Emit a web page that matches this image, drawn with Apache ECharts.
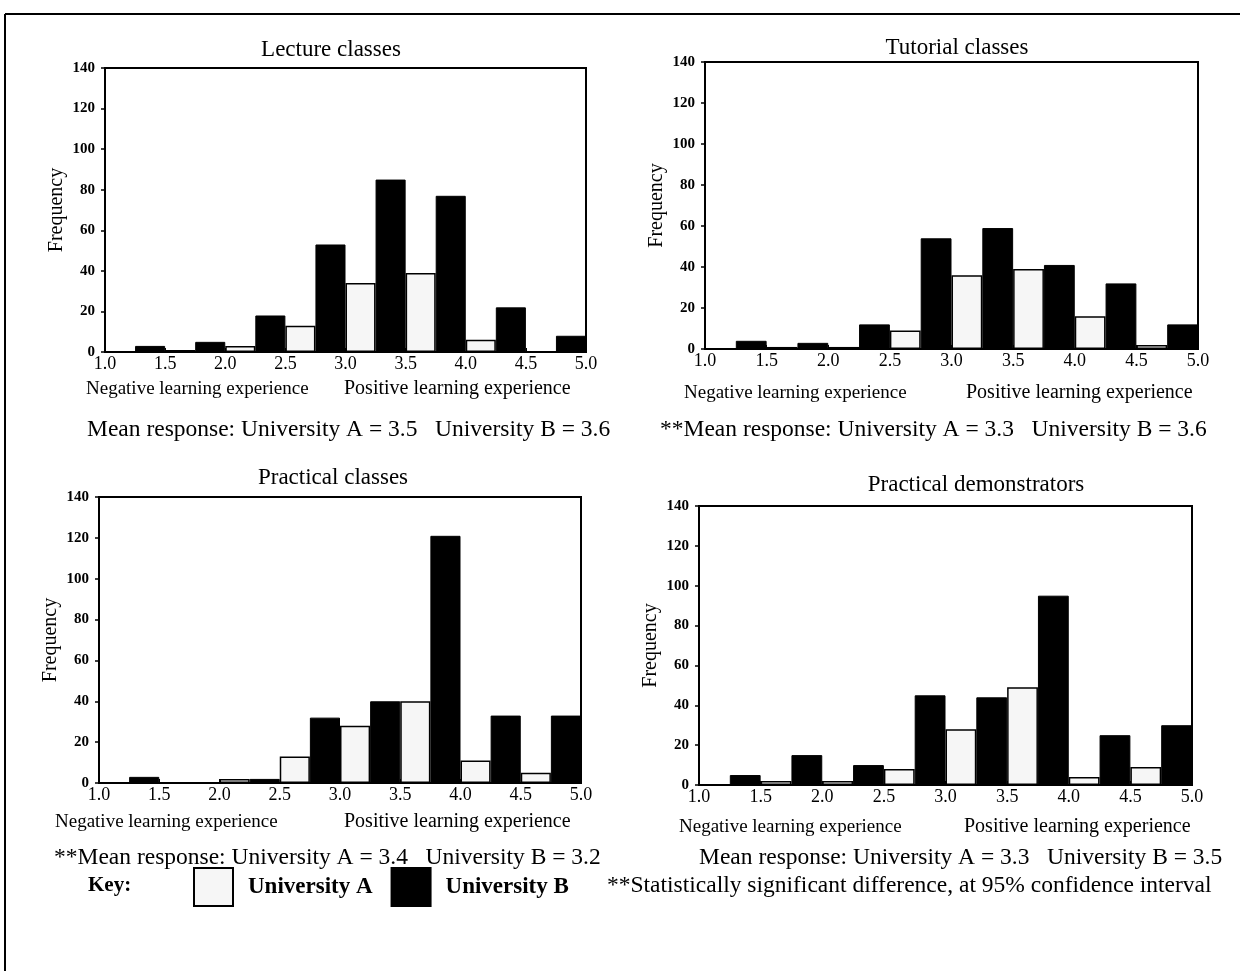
<!DOCTYPE html>
<html>
<head>
<meta charset="utf-8">
<script src="https://cdn.jsdelivr.net/npm/echarts@6/dist/echarts.min.js"></script>
<style>
  html, body { margin: 0; padding: 0; background: #fff; }
  #chart { width: 1240px; height: 971px; }
</style>
</head>
<body>
<div id="chart"></div>
<script>
// ---- data ----
var binGroups = ['1.0-1.5', '1.5-2.0', '2.0-2.5', '2.5-3.0', '3.0-3.5', '3.5-4.0', '4.0-4.5', '4.5-5.0'];
var xTickLabels = ['1.0', '1.5', '2.0', '2.5', '3.0', '3.5', '4.0', '4.5', '5.0'];
var yTickLabels = ['0', '20', '40', '60', '80', '100', '120', '140'];

var panelTitles = ['Lecture classes', 'Tutorial classes', 'Practical classes', 'Practical demonstrators'];
var meanNotes = [
  'Mean response: University A = 3.5   University B = 3.6',
  '**Mean response: University A = 3.3   University B = 3.6',
  '**Mean response: University A = 3.4   University B = 3.2',
  'Mean response: University A = 3.3   University B = 3.5'
];

var lectureA = [0, 1, 3, 13, 34, 39, 6, 0];
var lectureB = [3, 5, 18, 53, 85, 77, 22, 8];
var tutorialA = [0, 1, 1, 9, 36, 39, 16, 2];
var tutorialB = [4, 3, 12, 54, 59, 41, 32, 12];
var practicalA = [0, 0, 2, 13, 28, 40, 11, 5];
var practicalB = [3, 0, 2, 32, 40, 121, 33, 33];
var demonstratorsA = [0, 2, 2, 8, 28, 49, 4, 9];
var demonstratorsB = [5, 15, 10, 45, 44, 95, 25, 30];

var seriesA = [lectureA, tutorialA, practicalA, demonstratorsA];
var seriesB = [lectureB, tutorialB, practicalB, demonstratorsB];

// ---- layout ----
var SERIF = '"Liberation Serif", "DejaVu Serif", serif';
var grids = [
  { left: 105, top: 68, width: 481, height: 284 },
  { left: 705, top: 62, width: 493, height: 287 },
  { left: 99, top: 497, width: 482, height: 286 },
  { left: 699, top: 506, width: 493, height: 279 }
];
var titlePos = [[331, 50], [957, 48], [333, 478], [976, 485]];
var negPos = [[86, 389], [684, 393], [55, 822], [679, 827]];
var posPos = [[344, 389], [966, 393], [344, 822], [964, 827]];
var meanPos = [[87, 430], [660, 430], [54, 858], [699, 858]];

var xAxes = [], yAxes = [], series = [], graphics = [];

grids.forEach(function (g, i) {
  g.show = true;
  g.borderColor = '#000';
  g.borderWidth = 2;
  g.backgroundColor = '#fff';
  // category axis that holds the bars
  xAxes.push({
    type: 'category', gridIndex: i, data: binGroups, show: false, boundaryGap: true, position: 'bottom'
  });
  // value axis for the 1.0 .. 5.0 tick labels
  xAxes.push({
    type: 'value', gridIndex: i, position: 'bottom', min: 1, max: 5, interval: 0.5,
    axisLine: { show: true, lineStyle: { color: '#000', width: 2 } },
    axisTick: { show: true, inside: true, length: 4, lineStyle: { color: '#000' } },
    splitLine: { show: false },
    axisLabel: {
      color: '#000', fontFamily: SERIF, fontSize: 18, margin: 3,
      formatter: function (v) { return xTickLabels[Math.round((v - 1) / 0.5)]; }
    }
  });
  yAxes.push({
    type: 'value', gridIndex: i, min: 0, max: 140, interval: 20,
    name: 'Frequency', nameLocation: 'middle', nameGap: 38, nameRotate: 90,
    nameTextStyle: { color: '#000', fontFamily: SERIF, fontSize: 20 },
    axisLine: { show: true, lineStyle: { color: '#000', width: 2 } },
    axisTick: { show: true, length: 4, lineStyle: { color: '#000', width: 1.5 } },
    splitLine: { show: false },
    axisLabel: {
      color: '#000', fontFamily: SERIF, fontSize: 15, fontWeight: 'bold', margin: 10,
      formatter: function (v) { return yTickLabels[Math.round(v / 20)]; }
    }
  });
  series.push({
    name: 'University A', type: 'bar', xAxisIndex: 2 * i, yAxisIndex: i,
    data: seriesA[i], barGap: '0%', barCategoryGap: '0%',
    itemStyle: { color: '#f6f6f6', borderColor: '#000', borderWidth: 1.5 },
    emphasis: { disabled: true }
  });
  series.push({
    name: 'University B', type: 'bar', xAxisIndex: 2 * i, yAxisIndex: i,
    data: seriesB[i], barGap: '0%', barCategoryGap: '0%',
    itemStyle: { color: '#000', borderColor: '#000', borderWidth: 1 },
    emphasis: { disabled: true }
  });

  graphics.push({
    type: 'text', x: titlePos[i][0], y: titlePos[i][1],
    style: { text: panelTitles[i], font: '23px ' + SERIF, fill: '#000', textAlign: 'center', textVerticalAlign: 'middle' }
  });
  graphics.push({
    type: 'text', x: negPos[i][0], y: negPos[i][1],
    style: { text: 'Negative learning experience', font: '19px ' + SERIF, fill: '#000', textAlign: 'left', textVerticalAlign: 'middle' }
  });
  graphics.push({
    type: 'text', x: posPos[i][0], y: posPos[i][1],
    style: { text: 'Positive learning experience', font: '20px ' + SERIF, fill: '#000', textAlign: 'left', textVerticalAlign: 'middle' }
  });
  graphics.push({
    type: 'text', x: meanPos[i][0], y: meanPos[i][1],
    style: { text: meanNotes[i], font: '23.5px ' + SERIF, fill: '#000', textAlign: 'left', textVerticalAlign: 'middle' }
  });
});

// page frame and key
graphics.push({ type: 'line', shape: { x1: 5, y1: 14, x2: 1240, y2: 14 }, style: { stroke: '#000', lineWidth: 2 } });
graphics.push({ type: 'line', shape: { x1: 5, y1: 14, x2: 5, y2: 971 }, style: { stroke: '#000', lineWidth: 2 } });
graphics.push({
  type: 'text', x: 88, y: 886,
  style: { text: 'Key:', font: 'bold 21px ' + SERIF, fill: '#000', textAlign: 'left', textVerticalAlign: 'middle' }
});
graphics.push({
  type: 'text', x: 607, y: 886,
  style: { text: '**Statistically significant difference, at 95% confidence interval', font: '23.5px ' + SERIF, fill: '#000', textAlign: 'left', textVerticalAlign: 'middle' }
});

var chart = echarts.init(document.getElementById('chart'), null, { renderer: 'canvas' });
chart.setOption({
  animation: false,
  backgroundColor: '#fff',
  grid: grids,
  xAxis: xAxes,
  yAxis: yAxes,
  series: series,
  legend: {
    data: ['University A', 'University B'],
    left: 188, top: 862,
    icon: 'rect', itemWidth: 39, itemHeight: 38, itemGap: 18,
    selectedMode: false,
    textStyle: { color: '#000', fontFamily: SERIF, fontSize: 23, fontWeight: 'bold', padding: [0, 0, 0, 10] }
  },
  graphic: graphics
});
</script>
</body>
</html>
